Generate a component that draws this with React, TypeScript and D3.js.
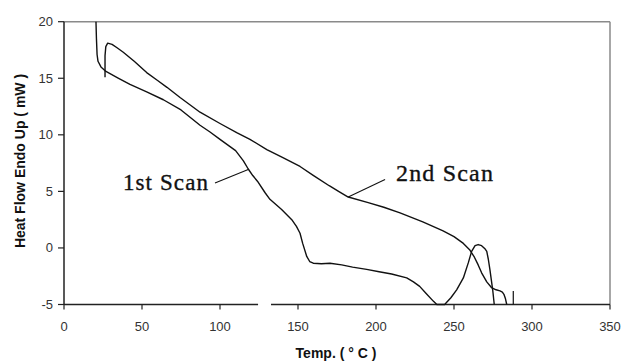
import React from 'react'
import * as d3 from 'd3'

// DSC traces: [temperature °C, heat flow mW]
const scan1: [number, number][] = [
  [20.5, 20.0], [20.8, 18.5], [21.2, 17.1], [21.8, 16.5], [23.7, 16.0], [26.9, 15.6],
  [35, 15.0], [42.3, 14.45], [53, 13.8], [63.7, 13.1], [75, 12.2], [87.2, 10.85],
  [93.6, 10.25], [100, 9.6], [106, 9.0], [110, 8.6], [115, 7.7], [118, 7.0],
  [121, 6.4], [124, 5.9], [128.8, 4.9], [132, 4.3], [139.5, 3.4], [146, 2.5],
  [149, 1.9], [151.3, 1.3], [153, 0.4], [155.6, -0.75], [157.5, -1.2], [159.8, -1.35],
  [165, -1.4], [170.5, -1.35], [178, -1.5], [185, -1.7], [194, -1.9], [202, -2.1],
  [210, -2.3], [219.7, -2.65], [224, -3.0], [228, -3.4], [232, -4.0], [236.7, -4.7],
  [239, -5.0], [244, -5.0], [248, -4.4], [251.7, -3.7], [256, -2.65], [259.2, -1.3],
  [261.3, -0.3], [263.5, 0.2], [265.5, 0.3], [267.7, 0.2], [270, -0.1], [271, -0.3],
  [272, -1.0], [273, -1.9], [274.8, -3.7], [275.8, -5.0],
]

const scan2: [number, number][] = [
  [26.3, 15.1], [26.3, 17.0], [26.8, 17.8], [28, 18.1], [30.8, 18.0], [34, 17.7],
  [38, 17.3], [45, 16.5], [53, 15.5], [60, 14.8], [66, 14.2], [74.4, 13.3],
  [87.2, 12.0], [100, 11.0], [110.7, 10.2], [119.2, 9.6], [130, 8.7], [140, 8.0],
  [151.3, 7.2], [160, 6.4], [170, 5.5], [176, 5.0], [182.2, 4.5], [195, 4.0],
  [205, 3.6], [215.4, 3.1], [230, 2.3], [243, 1.5], [250, 1.0], [256, 0.4],
  [260, -0.15], [263, -0.8], [265.5, -1.5], [267.7, -2.2], [271, -3.0], [274, -3.5],
  [277, -3.7], [279.5, -3.8], [281, -3.9], [282, -4.1], [283, -4.5], [283.8, -5.0],
]

// stray short trace near 288 °C
const strayMark: [number, number][] = [[288, -5], [288, -3.8]]

const xTicks = [0, 50, 100, 150, 200, 250, 300, 350]
const yTicks = [-5, 0, 5, 10, 15, 20]

// gap in the bottom axis line (temperature units)
const axisGap = [124.4, 132.7]

const labels = [
  { text: '1st Scan', x: 37.8, y: 5.16, size: 23, len: 85, from: [96.8, 5.75], to: [118.1, 6.93] },
  { text: '2nd Scan', x: 212.8, y: 5.9, size: 24, len: 97, from: [205.8, 6.04], to: [182.2, 4.5] },
]

export default function App() {
  const width = 622
  const height = 362
  const x = d3.scaleLinear().domain([0, 350]).range([64, 610])
  const y = d3.scaleLinear().domain([-5, 20]).range([304.5, 21.7])

  const line = d3.line<[number, number]>()
    .x(d => x(d[0]))
    .y(d => y(d[1]))

  const sans = 'Arial, "Liberation Sans", sans-serif'
  const serif = '"Liberation Serif", "Times New Roman", serif'

  return (
    <svg width={width} height={height} style={{ position: 'absolute', left: 0, top: 0, background: '#fff' }}>
      {/* frame top/right */}
      <line x1={x(0)} x2={x(350)} y1={y(20)} y2={y(20)} stroke="#8a8a8a" strokeWidth={1.5} />
      <line x1={x(350)} x2={x(350)} y1={y(20)} y2={y(-5)} stroke="#8a8a8a" strokeWidth={1.5} />

      {/* y axis */}
      <line x1={x(0)} x2={x(0)} y1={y(20)} y2={y(-5)} stroke="#222" strokeWidth={1.5} />
      {yTicks.map(t => (
        <g key={t}>
          <line x1={x(0) - 6} x2={x(0)} y1={y(t)} y2={y(t)} stroke="#222" strokeWidth={1.2} />
          <text x={x(0) - 11} y={y(t)} dy="0.35em" textAnchor="end"
            fontFamily={sans} fontSize={13} fill="#333">{t}</text>
        </g>
      ))}

      {/* x axis, broken */}
      <line x1={x(0)} x2={x(axisGap[0])} y1={y(-5)} y2={y(-5)} stroke="#222" strokeWidth={1.5} />
      <line x1={x(axisGap[1])} x2={x(350)} y1={y(-5)} y2={y(-5)} stroke="#222" strokeWidth={1.5} />
      {xTicks.map(t => (
        <g key={t}>
          <line x1={x(t)} x2={x(t)} y1={y(-5)} y2={y(-5) + 5} stroke="#222" strokeWidth={1.2} />
          <text x={x(t)} y={y(-5) + 22} dy="0.35em" textAnchor="middle"
            fontFamily={sans} fontSize={13} fill="#333">{t}</text>
        </g>
      ))}

      {/* axis titles */}
      <text x={336} y={358} textAnchor="middle" fontFamily={sans} fontSize={14}
        fontWeight="bold" fill="#111">Temp. ( ° C )</text>
      <text transform="translate(25,161) rotate(-90)" textAnchor="middle" fontFamily={sans}
        fontSize={14} fontWeight="bold" fill="#111">Heat Flow Endo Up ( mW )</text>

      {/* traces */}
      <path d={line(scan1) ?? ''} fill="none" stroke="#111" strokeWidth={1.4} strokeLinejoin="round" />
      <path d={line(scan2) ?? ''} fill="none" stroke="#111" strokeWidth={1.4} strokeLinejoin="round" />
      <path d={line(strayMark) ?? ''} fill="none" stroke="#111" strokeWidth={1.2} />

      {/* annotations */}
      {labels.map(l => (
        <g key={l.text}>
          <text x={x(l.x)} y={y(l.y)} fontFamily={serif} fontSize={l.size} fill="#111"
            stroke="#111" strokeWidth={0.35}
            textLength={l.len} lengthAdjust="spacing">{l.text}</text>
          <line x1={x(l.from[0])} y1={y(l.from[1])} x2={x(l.to[0])} y2={y(l.to[1])}
            stroke="#111" strokeWidth={1.1} />
        </g>
      ))}
    </svg>
  )
}
